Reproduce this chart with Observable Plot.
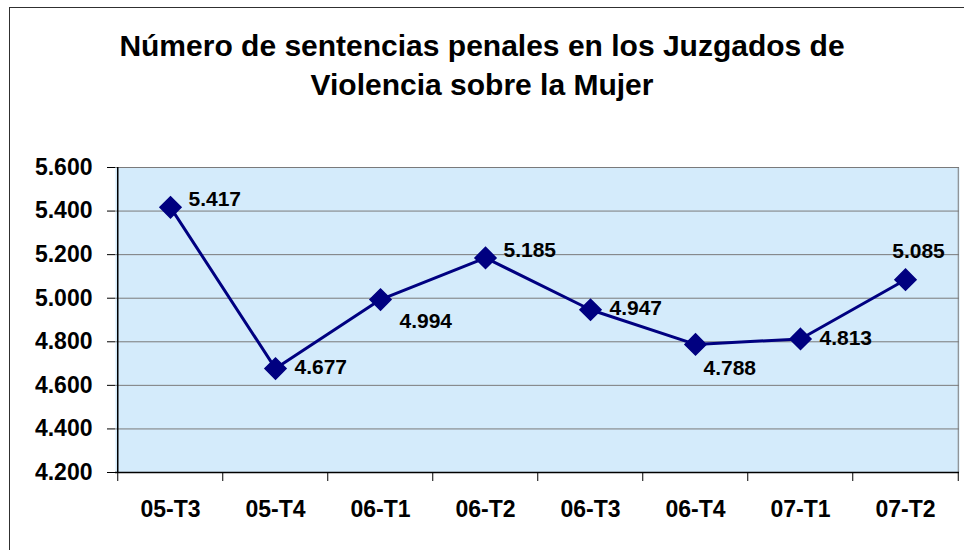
<!DOCTYPE html>
<html>
<head>
<meta charset="utf-8">
<script src="https://cdn.jsdelivr.net/npm/d3@7"></script>
<script src="https://cdn.jsdelivr.net/npm/@observablehq/plot@0.6"></script>
<style>
  html, body { margin: 0; padding: 0; background: #fff; overflow: hidden; }
  #wrap { position: relative; width: 964px; height: 550px; font-family: Arial, "Liberation Sans", sans-serif; }
  #border { position: absolute; left: 9px; top: 7px; width: 1000px; height: 600px; border: 1px solid #303030; box-sizing: border-box; }
  #title { position: absolute; left: 0; top: 26px; width: 964px; text-align: center; font-weight: bold; font-size: 30px; line-height: 39px; color: #000; }
  #chart { position: absolute; left: 0; top: 0; }
</style>
</head>
<body>
<div id="wrap">
  <div id="border"></div>
  <div id="chart"></div>
  <div id="title">Número de sentencias penales en los Juzgados de<br>Violencia sobre la Mujer</div>
</div>
<script>
const categories = ["05-T3", "05-T4", "06-T1", "06-T2", "06-T3", "06-T4", "07-T1", "07-T2"];
const values = [5417, 4677, 4994, 5185, 4947, 4788, 4813, 5085];
const yTicks = [4200, 4400, 4600, 4800, 5000, 5200, 5400, 5600];
const labelPlacement = ["upRight", "right", "belowRight", "upRight", "right", "below", "right", "above"];

const esFormat = d3.formatLocale({decimal: ",", thousands: ".", grouping: [3], currency: ["", " €"]}).format(",.0f");

const data = categories.map((c, i) => ({cat: c, value: values[i], place: labelPlacement[i]}));

const W = 964, H = 550;
const mL = 115, mR = 5, mT = 167, mB = 78;
const step = (W - mL - mR) / categories.length;

const placeStyle = {
  right:      {dx: 19, dy: -1, textAnchor: "start"},
  upRight:    {dx: 18, dy: -8, textAnchor: "start"},
  belowRight: {dx: 19, dy: 22, textAnchor: "start"},
  below:      {dx: 8,  dy: 24, textAnchor: "start"},
  above:      {dx: 13, dy: -28, textAnchor: "middle"}
};

const labelMarks = Object.entries(placeStyle).map(([k, s]) =>
  Plot.text(data.filter(d => d.place === k), {
    x: "cat", y: "value", text: d => esFormat(d.value),
    dx: s.dx, dy: s.dy, textAnchor: s.textAnchor,
    fontSize: 21, fontWeight: "bold", fill: "#000"
  })
);

const chart = Plot.plot({
  width: W, height: H,
  marginLeft: mL, marginRight: mR, marginTop: mT, marginBottom: mB,
  style: {fontFamily: 'Arial, "Liberation Sans", sans-serif', fontWeight: "bold", color: "#000", background: "transparent"},
  x: {type: "point", domain: categories, padding: 0.5, align: 0.5, axis: null, label: null},
  y: {domain: [4200, 5600], axis: null, label: null},
  marks: [
    Plot.frame({fill: "#D4EBFB", stroke: null}),
    Plot.gridY(yTicks, {stroke: "#7a7a7a", strokeOpacity: 1, strokeWidth: 1}),
    Plot.ruleX([categories[categories.length - 1]], {dx: step / 2, stroke: "#7a7a7a", strokeWidth: 1}),
    Plot.ruleX([categories[0]], {dx: -step / 2, stroke: "#000", strokeWidth: 1.5}),
    Plot.ruleY([4200], {stroke: "#000", strokeWidth: 1.5}),
    Plot.axisY({ticks: yTicks, tickFormat: esFormat, tickSize: 8, tickPadding: 15, fontSize: 23, fontWeight: "bold", stroke: "#000", label: null}),
    Plot.axisX({ticks: categories, tickFormat: () => "", tickSize: 9, dx: -step / 2, stroke: "#000", label: null}),
    Plot.axisX({ticks: [categories[categories.length - 1]], tickFormat: () => "", tickSize: 9, dx: step / 2, stroke: "#000", label: null}),
    Plot.axisX({ticks: categories, tickSize: 0, tickPadding: 28, fontSize: 23, fontWeight: "bold", label: null}),
    Plot.line(data, {x: "cat", y: "value", stroke: "#000080", strokeWidth: 3}),
    Plot.dot(data, {x: "cat", y: "value", symbol: "diamond2", r: 9.5, fill: "#000080", stroke: "#000080"}),
    ...labelMarks
  ]
});

document.getElementById("chart").appendChild(chart);
</script>
</body>
</html>
